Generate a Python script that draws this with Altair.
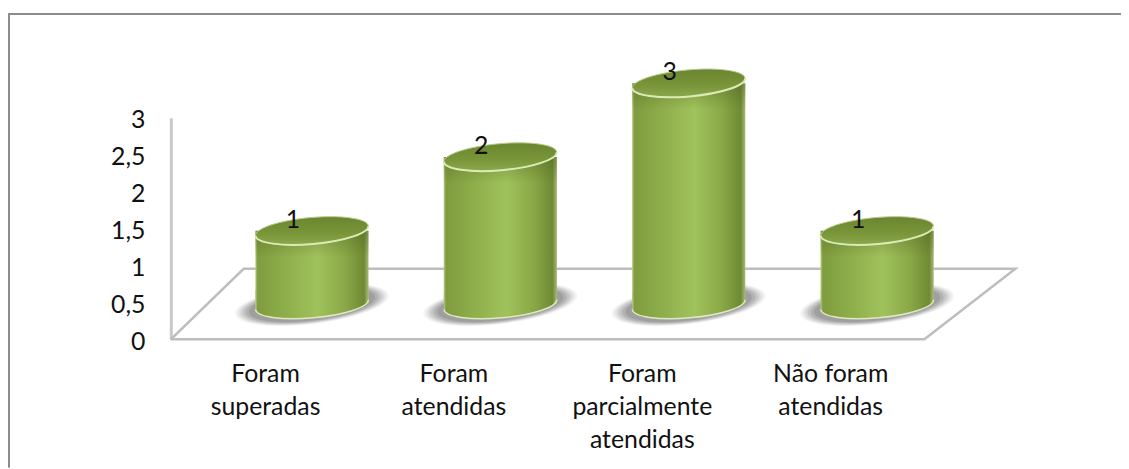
import math
import altair as alt
import pandas as pd

categories = ["Foram superadas", "Foram atendidas", "Foram parcialmente atendidas", "Não foram atendidas"]
label_lines = [["Foram", "superadas"], ["Foram", "atendidas"], ["Foram", "parcialmente", "atendidas"], ["Não foram", "atendidas"]]
values = [1, 2, 3, 1]
y_ticks = [0, 0.5, 1, 1.5, 2, 2.5, 3]

FONT = "Lato"
FS = 25
PLOT_W, PLOT_H = 759, 223
DEPTH_X, DEPTH_Y = 0.483, 0.955      # floor depth, in axis units
CX_OFF, BASE = 0.249, 0.47           # cylinder centre on the floor
CYL_PX = 114                         # cylinder width on screen
RX = CYL_PX / 2 / (PLOT_W / 4)
LABEL_DX, LABEL_DY = 0.148, 0.15


def ellipse(a=1.0, b=0.235, deg=-5.0, half=False, lens=False):
    k = 0.5523
    t = math.radians(deg)
    def p(x, y):
        return f"{x*math.cos(t)-y*math.sin(t):.4f},{x*math.sin(t)+y*math.cos(t):.4f}"
    front = f"M{p(-a,0)} C{p(-a,k*b)} {p(-k*a,b)} {p(0,b)} C{p(k*a,b)} {p(a,k*b)} {p(a,0)}"
    if half:
        return front
    if lens:  # front curve closed flat above the bar's lower edge
        return front + f" L{a:.4f},-0.25 L{-a:.4f},-0.25 Z"
    return front + f" C{p(a,-k*b)} {p(k*a,-b)} {p(0,-b)} C{p(-k*a,-b)} {p(-a,-k*b)} {p(-a,0)} Z"


def size_for(px):
    return px * px


def grad(stops, x2=0, y2=0):
    return alt.LinearGradient(gradient="linear", x1=0, y1=0, x2=x2, y2=y2,
                              stops=[alt.GradientStop(offset=o, color=c) for o, c in stops])


df = pd.DataFrame({
    "cat": categories,
    "v": values,
    "i": range(len(values)),
})
df["cx"] = df.i + 0.5 + CX_OFF
df["x0"] = df.cx - RX
df["x1"] = df.cx + RX
df["base"] = BASE
df["top"] = BASE + df.v
df["shade"] = df.top - 0.36
df["lx"] = df.i + 0.5 + LABEL_DX
df["ly"] = df.top + LABEL_DY

floor = pd.DataFrame({
    "o": range(5),
    "x": [0, DEPTH_X * 0.8, 4 + DEPTH_X, 4, 0],
    "y": [0, DEPTH_Y, DEPTH_Y, 0, 0],
})

xs = alt.Scale(domain=[0, 4], range=[0, PLOT_W], nice=False, zero=False)
ys = alt.Scale(domain=[0, 3], range=[PLOT_H, 0], nice=False, zero=False)

tick_pos = [i + 0.5 for i in range(len(label_lines))]
label_expr = "[" + ",".join(
    "[" + ",".join(f"'{s}'" for s in lines) + "]" for lines in label_lines
) + "][floor(datum.value)]"

X_AX = alt.Axis(values=tick_pos, labelExpr=label_expr, domain=False, ticks=False, grid=False, title=None,
                labelFont=FONT, labelFontSize=FS, labelColor="#111111", labelPadding=23,
                labelLineHeight=33, labelLimit=0, labelBaseline="top", labelAngle=0, labelOverlap=False)
Y_AX = alt.Axis(values=y_ticks, labelExpr="replace('' + datum.value, '.', ',')", domain=True, domainColor="#c9c9c9",
                domainWidth=3, ticks=False, grid=False, title=None, labelFont=FONT, labelFontSize=FS,
                labelColor="#111111", labelPadding=26, labelLimit=0, labelOffset=2)

body_stops = [(0, "#b9cf85"), (0.02, "#7f9c3e"), (0.3, "#90b04d"), (0.55, "#a0c25c"),
              (0.8, "#89a746"), (0.96, "#6f8a34"), (1, "#a8bb78")]
body_grad = grad(body_stops, x2=1)
lens_grad = grad(body_stops, x2=1)
top_grad = grad([(0, "#6a8530"), (0.6, "#7a9639"), (1, "#8ba84e")], y2=1)
shade_grad = grad([(0, "rgba(75,95,30,0.40)"), (1, "rgba(75,95,30,0)")], y2=1)

base = alt.Chart(df)
X = alt.X("cx:Q", scale=xs, axis=X_AX)
Y = alt.Y("base:Q", scale=ys, axis=Y_AX)
TOP_Y = alt.Y("top:Q", scale=ys, axis=Y_AX)

layers = []

layers.append(alt.Chart(floor).mark_line(color="#bdbdbd", strokeWidth=2.5, strokeJoin="miter").encode(
    x=alt.X("x:Q", scale=xs, axis=X_AX),
    y=alt.Y("y:Q", scale=ys, axis=Y_AX),
    order="o:O",
))

# soft floor shadow
for scale_px, op in [(156, 0.06), (151, 0.08), (146, 0.10), (141, 0.12), (135, 0.15), (128, 0.18)]:
    layers.append(base.mark_point(shape=ellipse(b=0.25, deg=-7), filled=True, fill="#4a4a4a", opacity=op,
                                  size=size_for(scale_px), strokeWidth=0).encode(x=X, y=Y))

# body
layers.append(base.mark_bar(fill=body_grad).encode(
    x=alt.X("x0:Q", scale=xs, axis=X_AX), x2="x1:Q", y=alt.Y("base:Q", scale=ys, axis=Y_AX), y2="top:Q"))
# shading under the rim
layers.append(base.mark_bar(fill=shade_grad).encode(
    x=alt.X("x0:Q", scale=xs, axis=X_AX), x2="x1:Q", y=alt.Y("top:Q", scale=ys, axis=Y_AX), y2="shade:Q"))
# top cap
layers.append(base.mark_point(shape=ellipse(), filled=True, fill=top_grad, stroke="#b9cc8c", strokeWidth=1,
                              opacity=1, size=size_for(CYL_PX)).encode(x=X, y=TOP_Y))
layers.append(base.mark_point(shape=ellipse(half=True), filled=False, stroke="#dcebb6", strokeWidth=2,
                              opacity=1, size=size_for(CYL_PX)).encode(x=X, y=TOP_Y))
# value labels
layers.append(base.mark_text(font=FONT, fontSize=FS, color="#111111", align="center", baseline="middle").encode(
    x=alt.X("lx:Q", scale=xs, axis=X_AX), y=alt.Y("ly:Q", scale=ys, axis=Y_AX), text="v:Q"))

# outer frame, in screen offsets from the plot area
frame_color = "#8c8c8c"
layers.append(base.mark_rule(color=frame_color, strokeWidth=2).encode(
    x=alt.value(-164), x2=alt.value(957), y=alt.value(-104.5)))
layers.append(base.mark_rule(color=frame_color, strokeWidth=2).encode(
    x=alt.value(-163), y=alt.value(-104.5), y2=alt.value(352)))

# bottom of the cylinder, over everything else
layers.append(base.mark_point(shape=ellipse(lens=True), filled=True, fill=lens_grad, strokeWidth=0,
                              opacity=1, size=size_for(CYL_PX)).encode(x=X, y=Y))
layers.append(base.mark_point(shape=ellipse(half=True), filled=False, stroke="#dfe9c0", strokeWidth=1.5,
                              opacity=1, size=size_for(CYL_PX)).encode(x=X, y=Y))

chart = alt.layer(*layers).properties(
    width=PLOT_W, height=PLOT_H,
    padding={"left": 164, "top": 109, "right": 198, "bottom": 129},
    autosize=alt.AutoSizeParams(type="none"),
    background="white",
).configure_view(stroke=None)

chart.save("out.html", embed_options={"renderer": "svg", "actions": False})
